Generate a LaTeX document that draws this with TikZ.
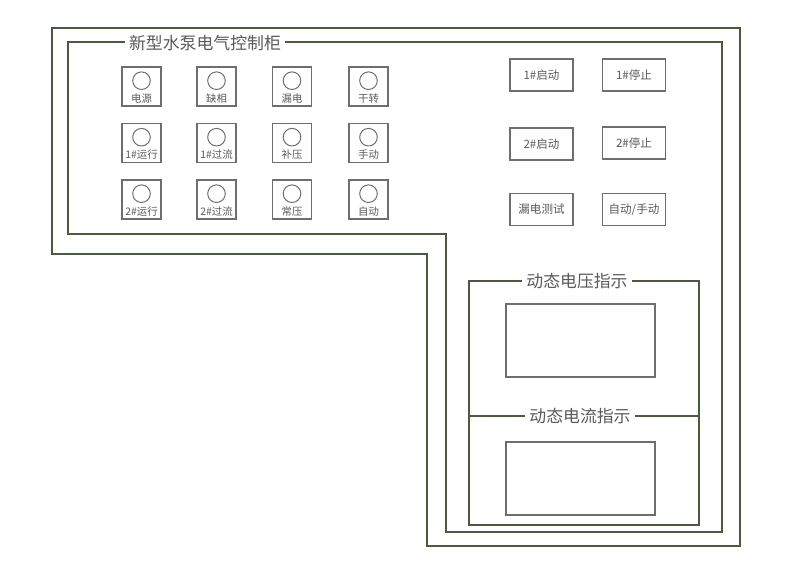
\documentclass[tikz,border=0pt]{standalone}
\usepackage{fontspec}
\setmainfont{Noto Sans CJK SC}
\usetikzlibrary{positioning}
\definecolor{frameline}{HTML}{4A5A3E}
\definecolor{boxline}{HTML}{6E6E6E}
\definecolor{labeltext}{HTML}{5A5A5A}
\tikzset{
  frame/.style={draw=frameline, line width=1.4pt, line join=miter},
  lampbox/.style={draw=boxline, line width=0.8pt, minimum size=9.75mm, inner sep=0pt},
  led/.style={circle, draw=boxline, line width=0.7pt, minimum size=4.4mm, inner sep=0pt},
  lamptext/.style={text=labeltext, font=\fontsize{7.4}{8}\selectfont, inner sep=0pt},
  keybox/.style={draw=boxline, line width=0.8pt, minimum width=15.75mm, minimum height=8mm,
    text=labeltext, font=\fontsize{8.2}{9}\selectfont, inner sep=0pt},
  screen/.style={draw=boxline, line width=0.8pt, minimum width=37.25mm, minimum height=18.25mm},
  caption/.style={fill=white, text=labeltext, font=\fontsize{12}{14}\selectfont,
    inner xsep=3pt, inner ysep=1pt},
}
\newcommand{\lamp}[3]{%
  \node[lampbox] (#1) at (#2) {};
  \node[led] (#1-led) at ([yshift=1.45mm]#1.center) {};
  \node[lamptext] (#1-text) at ([yshift=-2.9mm]#1.center) {#3};
}
\begin{document}
\begin{tikzpicture}[x=0.25mm, y=-0.25mm]
\useasboundingbox (0,0) rectangle (785,574);
% cabinet outline
\draw[frame] (52,28) -- (740,28) -- (740,546) -- (427,546) -- (427,254) -- (52,254) -- cycle;
\draw[frame] (68,42) -- (722,42) -- (722,532) -- (446,532) -- (446,234) -- (68,234) -- cycle;
\node[caption] (title) at (205,43) {新型水泵电气控制柜};
% indicator lamps
\lamp{power}{141.5,86.5}{电源}
\lamp{phase}{216.5,86.5}{缺相}
\lamp{leak}{292,86.5}{漏电}
\lamp{dry}{368.5,86.5}{干转}
\lamp{run1}{141.5,143}{1\#运行}
\lamp{over1}{216.5,143}{1\#过流}
\lamp{boost}{292,143}{补压}
\lamp{manual}{368.5,143}{手动}
\lamp{run2}{141.5,199.5}{2\#运行}
\lamp{over2}{216.5,199.5}{2\#过流}
\lamp{normal}{292,199.5}{常压}
\lamp{auto}{368.5,199.5}{自动}
% push buttons
\node[keybox] (start1) at (541.5,75) {1\#启动};
\node[keybox] (stop1) at (634,75) {1\#停止};
\node[keybox] (start2) at (541.5,144) {2\#启动};
\node[keybox] (stop2) at (634,143) {2\#停止};
\node[keybox] (leaktest) at (541.5,209.5) {漏电测试};
\node[keybox] (mode) at (634,209.5) {自动/手动};
% meters
\draw[frame] (469,281) rectangle (699,525);
\draw[frame] (469,416) -- (699,416);
\node[caption] (volt) at (577,281) {动态电压指示};
\node[caption] (curr) at (580,416) {动态电流指示};
\node[screen] (voltmeter) at (580.5,340.5) {};
\node[screen] (currmeter) at (580.5,478.5) {};
\end{tikzpicture}
\end{document}
